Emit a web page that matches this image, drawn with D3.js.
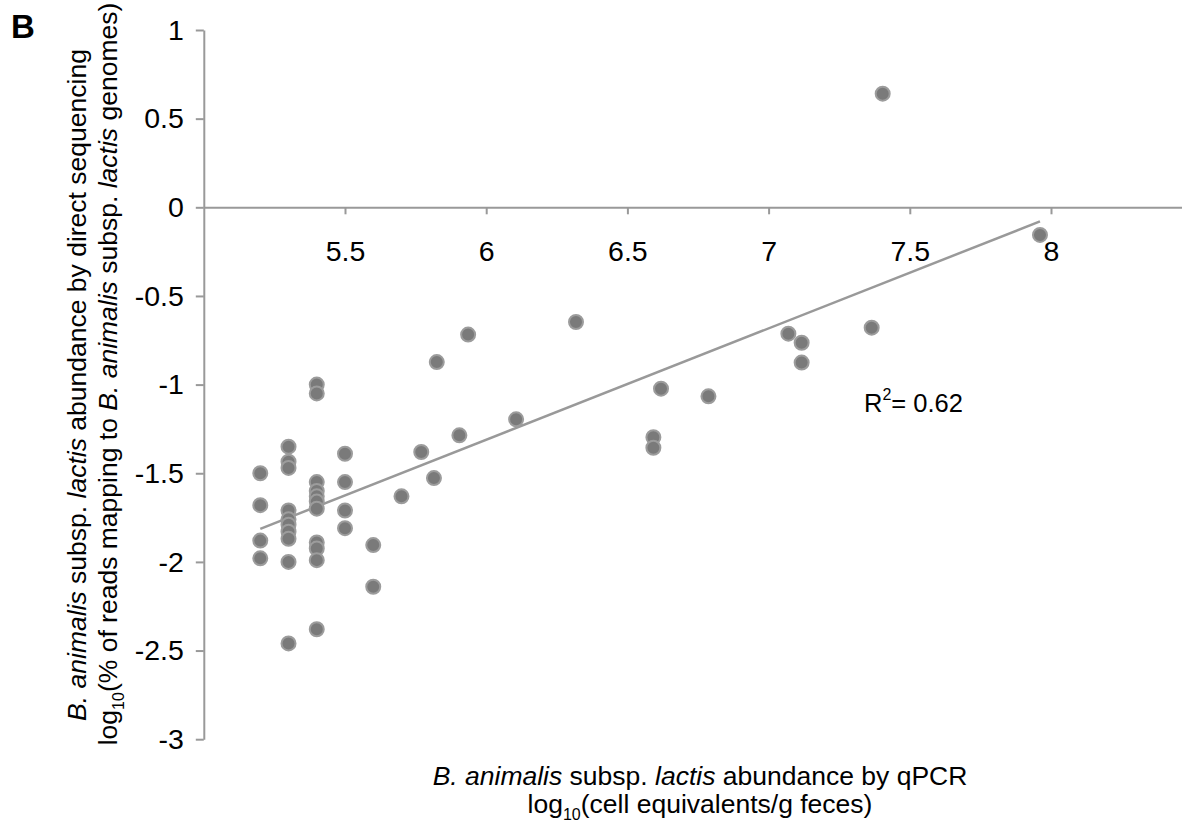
<!DOCTYPE html>
<html>
<head>
<meta charset="utf-8">
<script src="https://cdn.jsdelivr.net/npm/d3@7"></script>
<style>
  body { margin: 0; background: #fff; }
  svg { font-family: Arial, "Liberation Sans", sans-serif; }
</style>
</head>
<body>
<svg id="chart" width="1182" height="827"></svg>
<script>
// qPCR abundance (x) vs sequencing abundance (y), both log10
let qpcr = [
  5.2, 5.2, 5.2, 5.2,
  5.3, 5.3, 5.3, 5.3, 5.3, 5.3, 5.3, 5.3, 5.3, 5.3,
  5.4, 5.4, 5.4, 5.4, 5.4, 5.4, 5.4, 5.4, 5.4, 5.4, 5.4,
  5.5, 5.5, 5.5, 5.5,
  5.6, 5.6,
  5.7, 5.77, 5.815, 5.825, 5.905, 5.936, 6.106, 6.318, 6.592, 6.592,
  6.619, 6.787, 7.07, 7.117, 7.117, 7.365, 7.404, 7.961
]
let seq = [
  -1.50, -1.68, -1.88, -1.98,
  -1.35, -1.435, -1.47, -1.71, -1.76, -1.79, -1.83, -1.87, -2.00, -2.46,
  -1.00, -1.05, -1.55, -1.60, -1.63, -1.66, -1.70, -1.89, -1.925, -1.99, -2.38,
  -1.39, -1.55, -1.71, -1.81,
  -1.905, -2.14,
  -1.63, -1.38, -1.527, -0.873, -1.286, -0.718, -1.196, -0.647, -1.297, -1.356,
  -1.023, -1.066, -0.713, -0.764, -0.876, -0.679, 0.641, -0.156
]

let xTicks = [5.5, 6, 6.5, 7, 7.5, 8]
let yTicks = [-3, -2.5, -2, -1.5, -1, -0.5, 0, 0.5, 1]

// linear trendline
let trendSlope = 0.628
let trendIntercept = -5.079
let rSquared = '0.62'

let svg = d3.select('#chart')

let xScale = d3.scaleLinear().domain([5, 8.5]).range([203.8, 1192.2])
let yScale = d3.scaleLinear().domain([-3, 1]).range([739.2, 30])

let axisColor = '#999999'
let titleSize = '26.5px'

// y axis
let yAxis = d3.axisLeft(yScale)
              .tickValues(yTicks)
              .tickSize(8)
              .tickSizeOuter(0)
              .tickPadding(12)
              .tickFormat(d => String(d))
svg.append('g')
   .attr('transform', 'translate(' + xScale(5) + ',0)')
   .call(yAxis)

// x axis crosses at y = 0
let xAxis = d3.axisBottom(xScale)
              .tickValues(xTicks)
              .tickSize(7)
              .tickSizeOuter(0)
              .tickPadding(26)
              .tickFormat(d => String(d))
svg.append('g')
   .attr('transform', 'translate(0,' + yScale(0) + ')')
   .call(xAxis)

svg.selectAll('.domain, .tick line')
   .attr('stroke', axisColor)
   .attr('stroke-width', 2)
svg.selectAll('.tick text')
   .attr('fill', '#000')
   .style('font-size', '28.5px')
   .style('font-family', 'Arial, "Liberation Sans", sans-serif')

// trendline
let xMin = d3.min(qpcr), xMax = d3.max(qpcr)
svg.append('line')
   .attr('x1', xScale(xMin))
   .attr('y1', yScale(trendSlope * xMin + trendIntercept))
   .attr('x2', xScale(xMax))
   .attr('y2', yScale(trendSlope * xMax + trendIntercept))
   .attr('stroke', '#999999')
   .attr('stroke-width', 2.5)

// points
svg.selectAll('circle')
   .data(qpcr.map((q, i) => ({ x: q, y: seq[i] })))
   .enter()
   .append('circle')
   .attr('cx', d => xScale(d.x))
   .attr('cy', d => yScale(d.y))
   .attr('r', 7)
   .attr('fill', '#7a7a7a')
   .attr('stroke', '#9c9c9c')
   .attr('stroke-width', 2)

// R squared
let r2 = svg.append('text')
   .attr('x', 864)
   .attr('y', 412)
   .style('font-size', '25.5px')
r2.append('tspan').text('R')
r2.append('tspan').attr('dy', -12).style('font-size', '16px').text('2')
r2.append('tspan').attr('dy', 12).text('= ' + rSquared)

// panel letter
svg.append('text')
   .attr('x', 11)
   .attr('y', 38)
   .style('font-size', '33px')
   .style('font-weight', 'bold')
   .text('B')

// x axis title
let xt1 = svg.append('text')
   .attr('x', 700).attr('y', 785)
   .attr('text-anchor', 'middle')
   .style('font-size', titleSize)
xt1.append('tspan').style('font-style', 'italic').text('B. animalis')
xt1.append('tspan').text(' subsp. ')
xt1.append('tspan').style('font-style', 'italic').text('lactis')
xt1.append('tspan').text(' abundance by qPCR')

let xt2 = svg.append('text')
   .attr('x', 700).attr('y', 813)
   .attr('text-anchor', 'middle')
   .style('font-size', titleSize)
xt2.append('tspan').text('log')
xt2.append('tspan').attr('dy', 7).style('font-size', '16px').text('10')
xt2.append('tspan').attr('dy', -7).text('(cell equivalents/g feces)')

// y axis title
let yt1 = svg.append('text')
   .attr('transform', 'translate(86,385) rotate(-90)')
   .attr('text-anchor', 'middle')
   .style('font-size', titleSize)
yt1.append('tspan').style('font-style', 'italic').text('B. animalis')
yt1.append('tspan').text(' subsp. ')
yt1.append('tspan').style('font-style', 'italic').text('lactis')
yt1.append('tspan').text(' abundance by direct sequencing')

let yt2 = svg.append('text')
   .attr('transform', 'translate(117,374) rotate(-90)')
   .attr('text-anchor', 'middle')
   .style('font-size', titleSize)
yt2.append('tspan').text('log')
yt2.append('tspan').attr('dy', 7).style('font-size', '16px').text('10')
yt2.append('tspan').attr('dy', -7).text('(% of reads mapping to ')
yt2.append('tspan').style('font-style', 'italic').text('B. animalis')
yt2.append('tspan').text(' subsp. ')
yt2.append('tspan').style('font-style', 'italic').text('lactis')
yt2.append('tspan').text(' genomes)')
</script>
</body>
</html>
